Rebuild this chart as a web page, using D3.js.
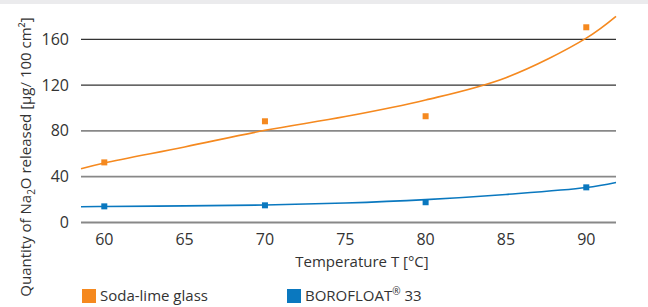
<!DOCTYPE html>
<html>
<head>
<meta charset="utf-8">
<script src="https://cdn.jsdelivr.net/npm/d3@7"></script>
<style>
  body { margin: 0; background: #fff; }
  text { font-family: "Open Sans", sans-serif; fill: #333; }
</style>
</head>
<body>
<div id="plot"></div>
<script>
// measured points
const temps = [60, 70, 80, 90];
const sodaLime = [52.5, 88.4, 92.8, 170.5];
const borofloat = [14.1, 15.0, 17.7, 30.7];

// trend lines
const trendTemps = [58.55, 60, 65, 70, 75, 80, 85, 90, 91.85];
const sodaTrend = [47, 52, 66, 80.5, 92.5, 107, 126.5, 161, 180];
const boroTrend = [13.8, 14, 14.5, 15.3, 17, 20, 24.5, 30.5, 35];

const yTicks = [0, 40, 80, 120, 160];
const xTicks = [60, 65, 70, 75, 80, 85, 90];
const seriesNames = ["Soda-lime glass", "BOROFLOAT"];
const colors = ["#f5891f", "#0a78bf"];

const W = 648, H = 307;

const svg = d3.select("#plot")
    .append("svg")
    .attr("width", W)
    .attr("height", H);

// grey band along the top
svg.append("rect")
    .attr("x", 0).attr("y", 0)
    .attr("width", W).attr("height", 4)
    .attr("fill", "#ebebed");

let x = d3.scaleLinear()
    .domain([58.55, 91.85])
    .range([81, 616]);
let y = d3.scaleLinear()
    .domain([0, 180])
    .range([222.5, 16.4]);

// grid lines
svg.append("g")
    .selectAll("line")
    .data(yTicks)
    .enter()
    .append("line")
    .attr("x1", x.range()[0])
    .attr("x2", x.range()[1])
    .attr("y1", d => y(d))
    .attr("y2", d => y(d))
    .attr("stroke", d => d >= 120 ? "#333" : "#888")
    .attr("stroke-width", d => d >= 120 ? 1.3 : 1.8);

// y tick labels
svg.append("g")
    .selectAll("text")
    .data(yTicks)
    .enter()
    .append("text")
    .attr("x", 69)
    .attr("y", d => y(d) + 5.5)
    .attr("text-anchor", "end")
    .style("font-size", "16px")
    .text(d => d);

// x tick labels
svg.append("g")
    .selectAll("text")
    .data(xTicks)
    .enter()
    .append("text")
    .attr("x", d => x(d))
    .attr("y", 245)
    .attr("text-anchor", "middle")
    .style("font-size", "16px")
    .text(d => d);

// axis titles
svg.append("text")
    .attr("x", 362)
    .attr("y", 267)
    .attr("text-anchor", "middle")
    .style("font-size", "15px")
    .text("Temperature T [°C]");

const yTitle = svg.append("text")
    .attr("transform", "translate(31,157) rotate(-90)")
    .attr("text-anchor", "middle")
    .style("font-size", "15px");
yTitle.append("tspan").text("Quantity of Na");
yTitle.append("tspan").attr("dy", 4).style("font-size", "10px").text("2");
yTitle.append("tspan").attr("dy", -4).text("O released [µg/ 100 cm²]");

// trend curves
const line = d3.line()
    .x((d, i) => x(trendTemps[i]))
    .y(d => y(d))
    .curve(d3.curveCatmullRom.alpha(0.5));

[sodaTrend, boroTrend].forEach((s, i) => {
    svg.append("path")
        .datum(s)
        .attr("fill", "none")
        .attr("stroke", colors[i])
        .attr("stroke-width", 1.6)
        .attr("d", line);
});

// markers
[sodaLime, borofloat].forEach((s, i) => {
    svg.append("g")
        .selectAll("rect")
        .data(s)
        .enter()
        .append("rect")
        .attr("x", (d, j) => x(temps[j]) - 3)
        .attr("y", d => y(d) - 3)
        .attr("width", 6)
        .attr("height", 6)
        .attr("fill", colors[i]);
});

// legend
const legendX = [82, 287];
seriesNames.forEach((name, i) => {
    svg.append("rect")
        .attr("x", legendX[i])
        .attr("y", 289)
        .attr("width", 14)
        .attr("height", 14)
        .attr("fill", colors[i]);
    const t = svg.append("text")
        .attr("x", legendX[i] + 18)
        .attr("y", 301)
        .style("font-size", "15px")
        .text(name);
    if (i === 1) {
        t.append("tspan").attr("dy", -6).style("font-size", "10px").text("®");
        t.append("tspan").attr("dy", 6).text(" 33");
    }
});
</script>
</body>
</html>
